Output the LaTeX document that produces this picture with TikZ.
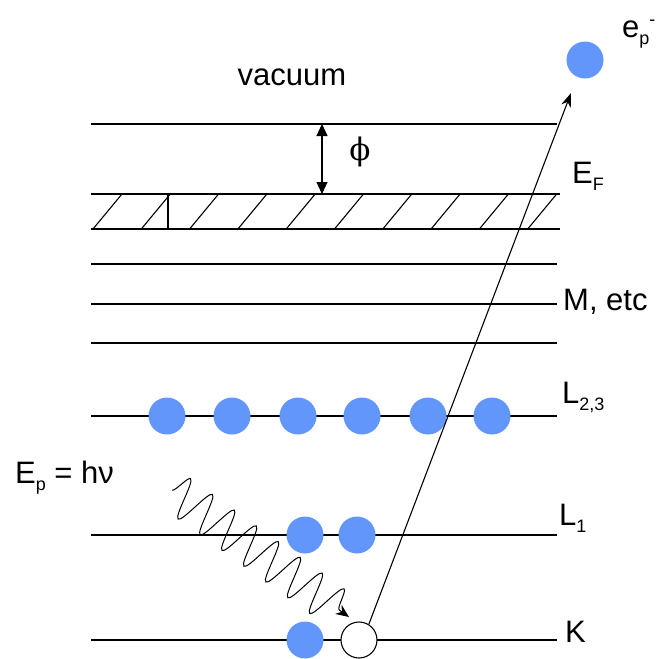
\documentclass[tikz,border=0pt]{standalone}
\usepackage{fontspec}
\setmainfont{Liberation Sans}
\newfontfamily\greekfont{DejaVu Serif}
\usetikzlibrary{arrows.meta,decorations.pathmorphing,positioning}
\definecolor{eblue}{RGB}{98,150,250}
\newcommand{\lsub}[1]{\raisebox{-7pt}{\fontsize{18}{18}\selectfont #1}}
\newcommand{\lsup}[1]{\raisebox{12pt}{\fontsize{18}{18}\selectfont #1}}

\begin{document}
\begin{tikzpicture}[
  x=1pt, y=-1pt,
  every node/.style={font=\fontsize{31}{37}\selectfont},
  lvl/.style={line width=1.1pt},
  lbl/.style={anchor=base west,inner sep=0pt},
  elec/.style={circle,fill=eblue,minimum size=37pt,inner sep=0pt},
  hole/.style={circle,draw,line width=1.1pt,fill=white,minimum size=36pt,inner sep=0pt},
  arr/.style={-{Stealth[length=14pt,width=10pt]},line width=1.1pt},
  photon/.style={decorate,line width=1pt,-{Stealth[length=13pt,width=11pt]},
    decoration={snake,amplitude=20pt,segment length=27pt,post length=10pt}}
]
\useasboundingbox (0,0) rectangle (662,659);
\foreach \y in {124,264,304,343,416,535,640}
  \draw[lvl] (91,\y) -- (557,\y);
\draw[lvl] (91,194) -- (560,194) (91,229) -- (560,229) (168,194) -- (168,229);
\foreach \i in {0,...,9}
  \draw[lvl] (93+48.3*\i,229) -- ++(29,-35);
\coordinate (vac) at (322,124);
\coordinate (ef) at (322,194);
\draw[lvl,{Triangle[length=12pt,width=11pt]}-{Triangle[length=12pt,width=11pt]}] (vac) -- (ef);
\foreach \x [count=\i] in {167,232,298,362,428,492}
  \node[elec] (l23-\i) at (\x,416) {};
\node[elec] (l1-1) at (305,535) {};
\node[elec] (l1-2) at (357,535) {};
\node[elec] (k-1) at (305,640) {};
\node[hole] (k-2) at (359,640) {};
\node[elec] (ep) at (585,60) {};
\coordinate (tip) at (571,93);
\draw[arr] (k-2.58) -- (tip);
\coordinate (w0) at (172,490);
\coordinate (w1) at (349,617);
\draw[photon] (w0) -- (w1);
\node[anchor=base] (vacl) at (292,85) {vacuum};
\node (phil) at (360,152) {\greekfont ϕ};
\node[lbl] (efl) at (572,183) {E\lsub{F}};
\node[lbl] (ml) at (563,310) {M, etc};
\node[lbl] (l23l) at (562,403) {L\lsub{2,3}};
\node[lbl] (l1l) at (559,525) {L\lsub{1}};
\node[lbl] (kl) at (565,642) {K};
\node[lbl] (epl) at (15,483) {E\lsub{p} = hν};
\node[lbl] (eml) at (622,37) {e\lsub{p}\lsup{-}};
\end{tikzpicture}
\end{document}
